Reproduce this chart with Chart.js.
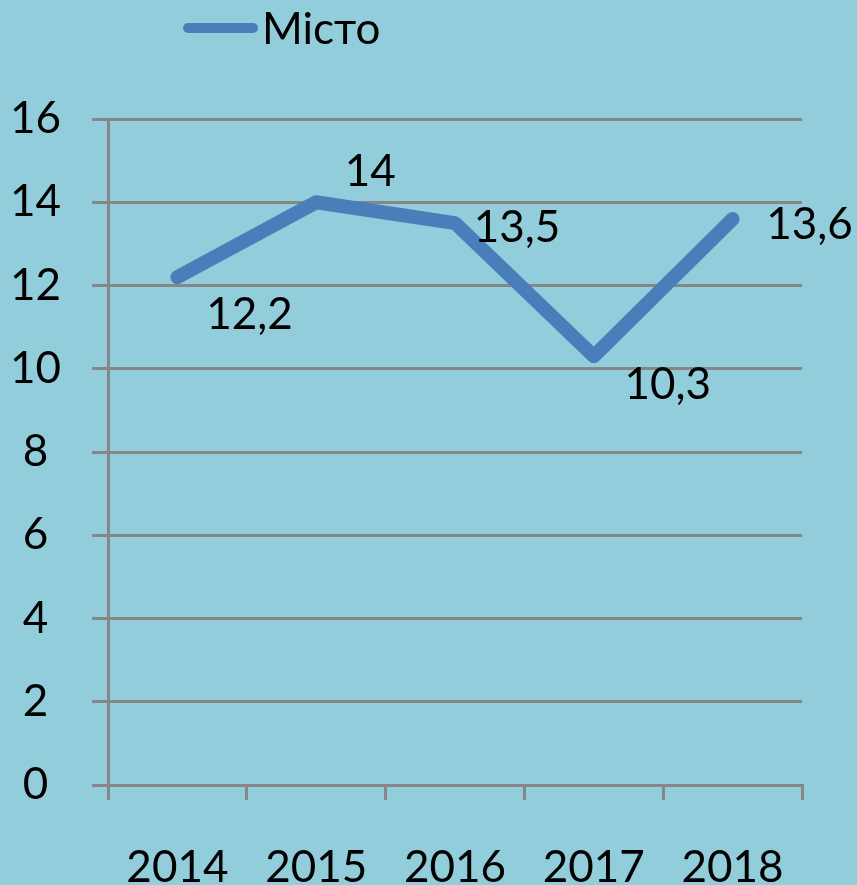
<!DOCTYPE html>
<html>
<head>
<meta charset="utf-8">
<script src="https://cdn.jsdelivr.net/npm/chart.js@4/dist/chart.umd.min.js"></script>
<style>
  html, body { margin: 0; padding: 0; background: #92CDDC; }
  #wrap { width: 857px; height: 885px; }
</style>
</head>
<body>
<div id="wrap"><canvas id="c" width="857" height="885"></canvas></div>
<script>
const categories = ['2014', '2015', '2016', '2017', '2018'];
const seriesName = 'Місто';
const values = [12.2, 14, 13.5, 10.3, 13.6];
const yTicks = [0, 2, 4, 6, 8, 10, 12, 14, 16];

// label placement (pixel offsets from each point)
const labelOffsets = [[72, 38], [54, -30], [62, 5], [74, 29], [77, 6]];

const FONT = 'Lato, "Open Sans", sans-serif';
const FSIZE = 44;
const LINE_COLOR = '#4A7EBB';
const GRID = '#878787';

const fmt = v => String(v).replace('.', ',');

const dataLabels = {
  id: 'dataLabels',
  afterDatasetsDraw(chart) {
    const ctx = chart.ctx;
    const meta = chart.getDatasetMeta(0);
    ctx.save();
    ctx.font = `${FSIZE}px ${FONT}`;
    ctx.fillStyle = '#000';
    ctx.textAlign = 'center';
    ctx.textBaseline = 'middle';
    meta.data.forEach((pt, i) => {
      const [dx, dy] = labelOffsets[i];
      ctx.fillText(fmt(chart.data.datasets[0].data[i]), pt.x + dx, pt.y + dy);
    });
    ctx.restore();
  }
};

const customLegend = {
  id: 'customLegend',
  afterDraw(chart) {
    const ctx = chart.ctx;
    ctx.save();
    ctx.strokeStyle = LINE_COLOR;
    ctx.lineWidth = 10;
    ctx.lineCap = 'round';
    ctx.beginPath();
    ctx.moveTo(188, 28);
    ctx.lineTo(253, 28);
    ctx.stroke();
    ctx.font = `${FSIZE}px ${FONT}`;
    ctx.fillStyle = '#000';
    ctx.textAlign = 'left';
    ctx.textBaseline = 'middle';
    ctx.fillText(chart.data.datasets[0].label, 262, 30);
    ctx.restore();
  }
};

new Chart(document.getElementById('c'), {
  type: 'line',
  data: {
    labels: categories,
    datasets: [{
      label: seriesName,
      data: values,
      borderColor: LINE_COLOR,
      backgroundColor: LINE_COLOR,
      borderWidth: 14,
      borderCapStyle: 'round',
      borderJoinStyle: 'round',
      pointRadius: 0,
      tension: 0,
      fill: false
    }]
  },
  options: {
    responsive: false,
    maintainAspectRatio: false,
    animation: false,
    layout: { padding: { top: 119, right: 55, left: 0, bottom: 0 } },
    plugins: { legend: { display: false }, tooltip: { enabled: false } },
    scales: {
      x: {
        offset: true,
        grid: { offset: true, drawOnChartArea: false, drawTicks: true, tickLength: 15, color: GRID, lineWidth: 3 },
        border: { display: true, color: GRID, width: 3 },
        ticks: { color: '#000', font: { family: FONT, size: FSIZE }, padding: 41, maxRotation: 0 },
        afterFit(s) { s.height = 100; }
      },
      y: {
        min: 0, max: 16,
        afterBuildTicks(s) { s.ticks = yTicks.map(v => ({ value: v })); },
        grid: { color: GRID, lineWidth: 3, tickLength: 16 },
        border: { display: true, color: GRID, width: 3 },
        ticks: { color: '#000', font: { family: FONT, size: FSIZE }, padding: 31, crossAlign: 'center' },
        afterFit(s) { s.width = 108; }
      }
    }
  },
  plugins: [dataLabels, customLegend]
});
</script>
</body>
</html>
